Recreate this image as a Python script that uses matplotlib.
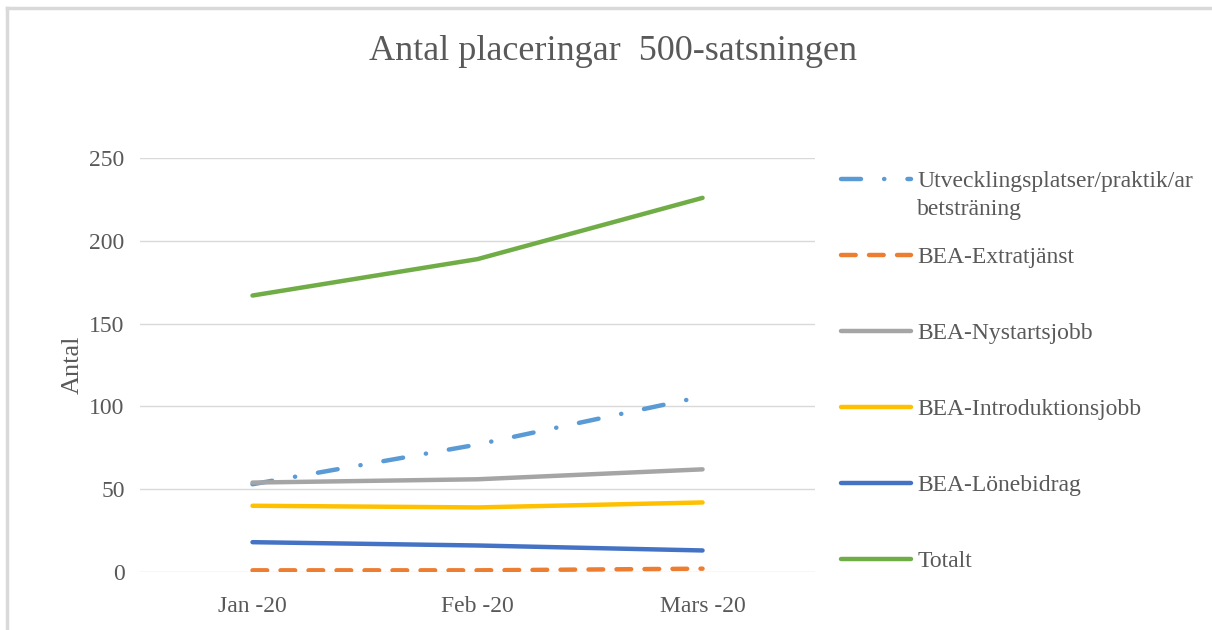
import matplotlib
matplotlib.use("Agg")
import matplotlib.pyplot as plt
from matplotlib.lines import Line2D

# Data
months = ["Jan -20", "Feb -20", "Mars -20"]
utveckling = [53, 77, 106]
extratjanst = [1, 1, 2]
nystartsjobb = [54, 56, 62]
introduktionsjobb = [40, 39, 42]
lonebidrag = [18, 16, 13]
totalt = [167, 189, 226]

# first label wraps onto a second line in the original legend
labels = ["Utvecklingsplatser/praktik/ar", "BEA-Extratjänst", "BEA-Nystartsjobb",
          "BEA-Introduktionsjobb", "BEA-Lönebidrag", "Totalt"]
label_wrap = "betsträning"
colors = ["#5B9BD5", "#ED7D31", "#A5A5A5", "#FFC000", "#4472C4", "#70AD47"]

plt.rcParams["font.family"] = ["Liberation Serif", "DejaVu Serif"]

fig = plt.figure(figsize=(12.12, 6.3), dpi=100)
ax = fig.add_axes([0.1155, 0.0921, 0.557, 0.6569])

x = range(len(months))
series = [utveckling, extratjanst, nystartsjobb, introduktionsjobb, lonebidrag, totalt]
styles = [(0, (4.5, 5.2, 0.05, 5.2)), (0, (3.3, 3.0)), "-", "-", "-", "-"]
handles = []
for vals, lab, col, ls in zip(series, labels, colors, styles):
    line, = ax.plot(x, vals, color=col, lw=3.2, linestyle=ls, label=lab,
                    dash_capstyle="round", solid_capstyle="round")
    handles.append(line)

ax.set_xlim(-0.5, 2.5)
ax.set_ylim(0, 250)
ax.set_yticks([0, 50, 100, 150, 200, 250])
ax.set_xticks(list(x))
ax.set_xticklabels(months)
ax.grid(axis="y", color="#D9D9D9", lw=1)
ax.set_axisbelow(True)
for s in ax.spines.values():
    s.set_visible(False)
ax.tick_params(length=0, labelsize=17, labelcolor="#595959")
ax.tick_params(axis="x", pad=17)
ax.tick_params(axis="y", pad=11)
ax.set_ylabel("Antal", fontsize=19, color="#595959", labelpad=4)

fig.text(0.506, 0.918, "Antal placeringar  500-satsningen", ha="center", va="center",
         fontsize=26, color="#595959")

leg = fig.legend(handles=handles, loc="upper left", bbox_to_anchor=(0.676, 0.763),
                 frameon=False, fontsize=17, labelcolor="#595959", handlelength=3.0,
                 labelspacing=2.31, handletextpad=0.25)

# second line of the wrapped first legend label
fig.canvas.draw()
bb = leg.get_texts()[0].get_window_extent().transformed(fig.transFigure.inverted())
fig.text(bb.x0, bb.y0 - 0.011, label_wrap, ha="left", va="top", fontsize=17, color="#595959")

# chart area border (top and left edges visible)
fig.add_artist(Line2D([0.006, 1], [0.988, 0.988], color="#D9D9D9", lw=2.5, transform=fig.transFigure))
fig.add_artist(Line2D([0.006, 0.006], [0, 0.988], color="#D9D9D9", lw=2.5, transform=fig.transFigure))

fig.savefig("out.png", dpi=100)
